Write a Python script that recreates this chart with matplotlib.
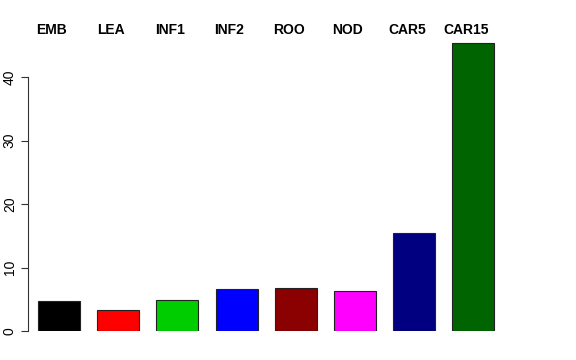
import matplotlib.pyplot as plt
import matplotlib.transforms as mtransforms

# Data
samples = ['EMB', 'LEA', 'INF1', 'INF2', 'ROO', 'NOD', 'CAR5', 'CAR15']
values = [4.7, 3.35, 4.9, 6.55, 6.8, 6.3, 15.4, 45.3]
colors = ['#000000', '#FF0000', '#00CD00', '#0000FF', '#8B0000', '#FF00FF', '#000080', '#006400']
yticks = [0, 10, 20, 30, 40]

plt.rcParams['font.family'] = ['Liberation Sans', 'DejaVu Sans']

W, H = 576, 360
fig = plt.figure(figsize=(W / 100, H / 100), dpi=100)
# plot region in pixels: left 28, right 548, top 39, bottom 331
ax = fig.add_axes([28 / W, (H - 331) / H, (548 - 28) / W, (331 - 39) / H])

x = list(range(len(samples)))
ax.bar(x, values, width=0.71, color=colors, edgecolor='#222222', linewidth=0.8)

ax.set_xlim((28 - 59) / 59.2, (548 - 59) / 59.2)
ax.set_ylim(0, (331 - 39) / 6.35)

for s in ['top', 'right', 'bottom']:
    ax.spines[s].set_visible(False)
ax.spines['left'].set_bounds(0, 40)
ax.spines['left'].set_linewidth(0.8)
ax.spines['left'].set_color('#333333')
ax.set_xticks([])
ax.set_yticks(yticks)
ax.set_yticklabels([str(t) for t in yticks], rotation=90, va='center', fontsize=10)
ax.tick_params(axis='y', length=5, width=0.8, pad=3, color='#333333')

# sample names above the bars (slightly left of the bar centres, as in the original)
trans = mtransforms.blended_transform_factory(ax.transData, ax.transAxes)
for xi, name in zip(x, samples):
    ax.text(xi - 0.12, 1 + 9.5 / 292, name, transform=trans, ha='center', va='center',
            fontsize=10, fontweight='bold')

fig.savefig('out.png', dpi=100)
